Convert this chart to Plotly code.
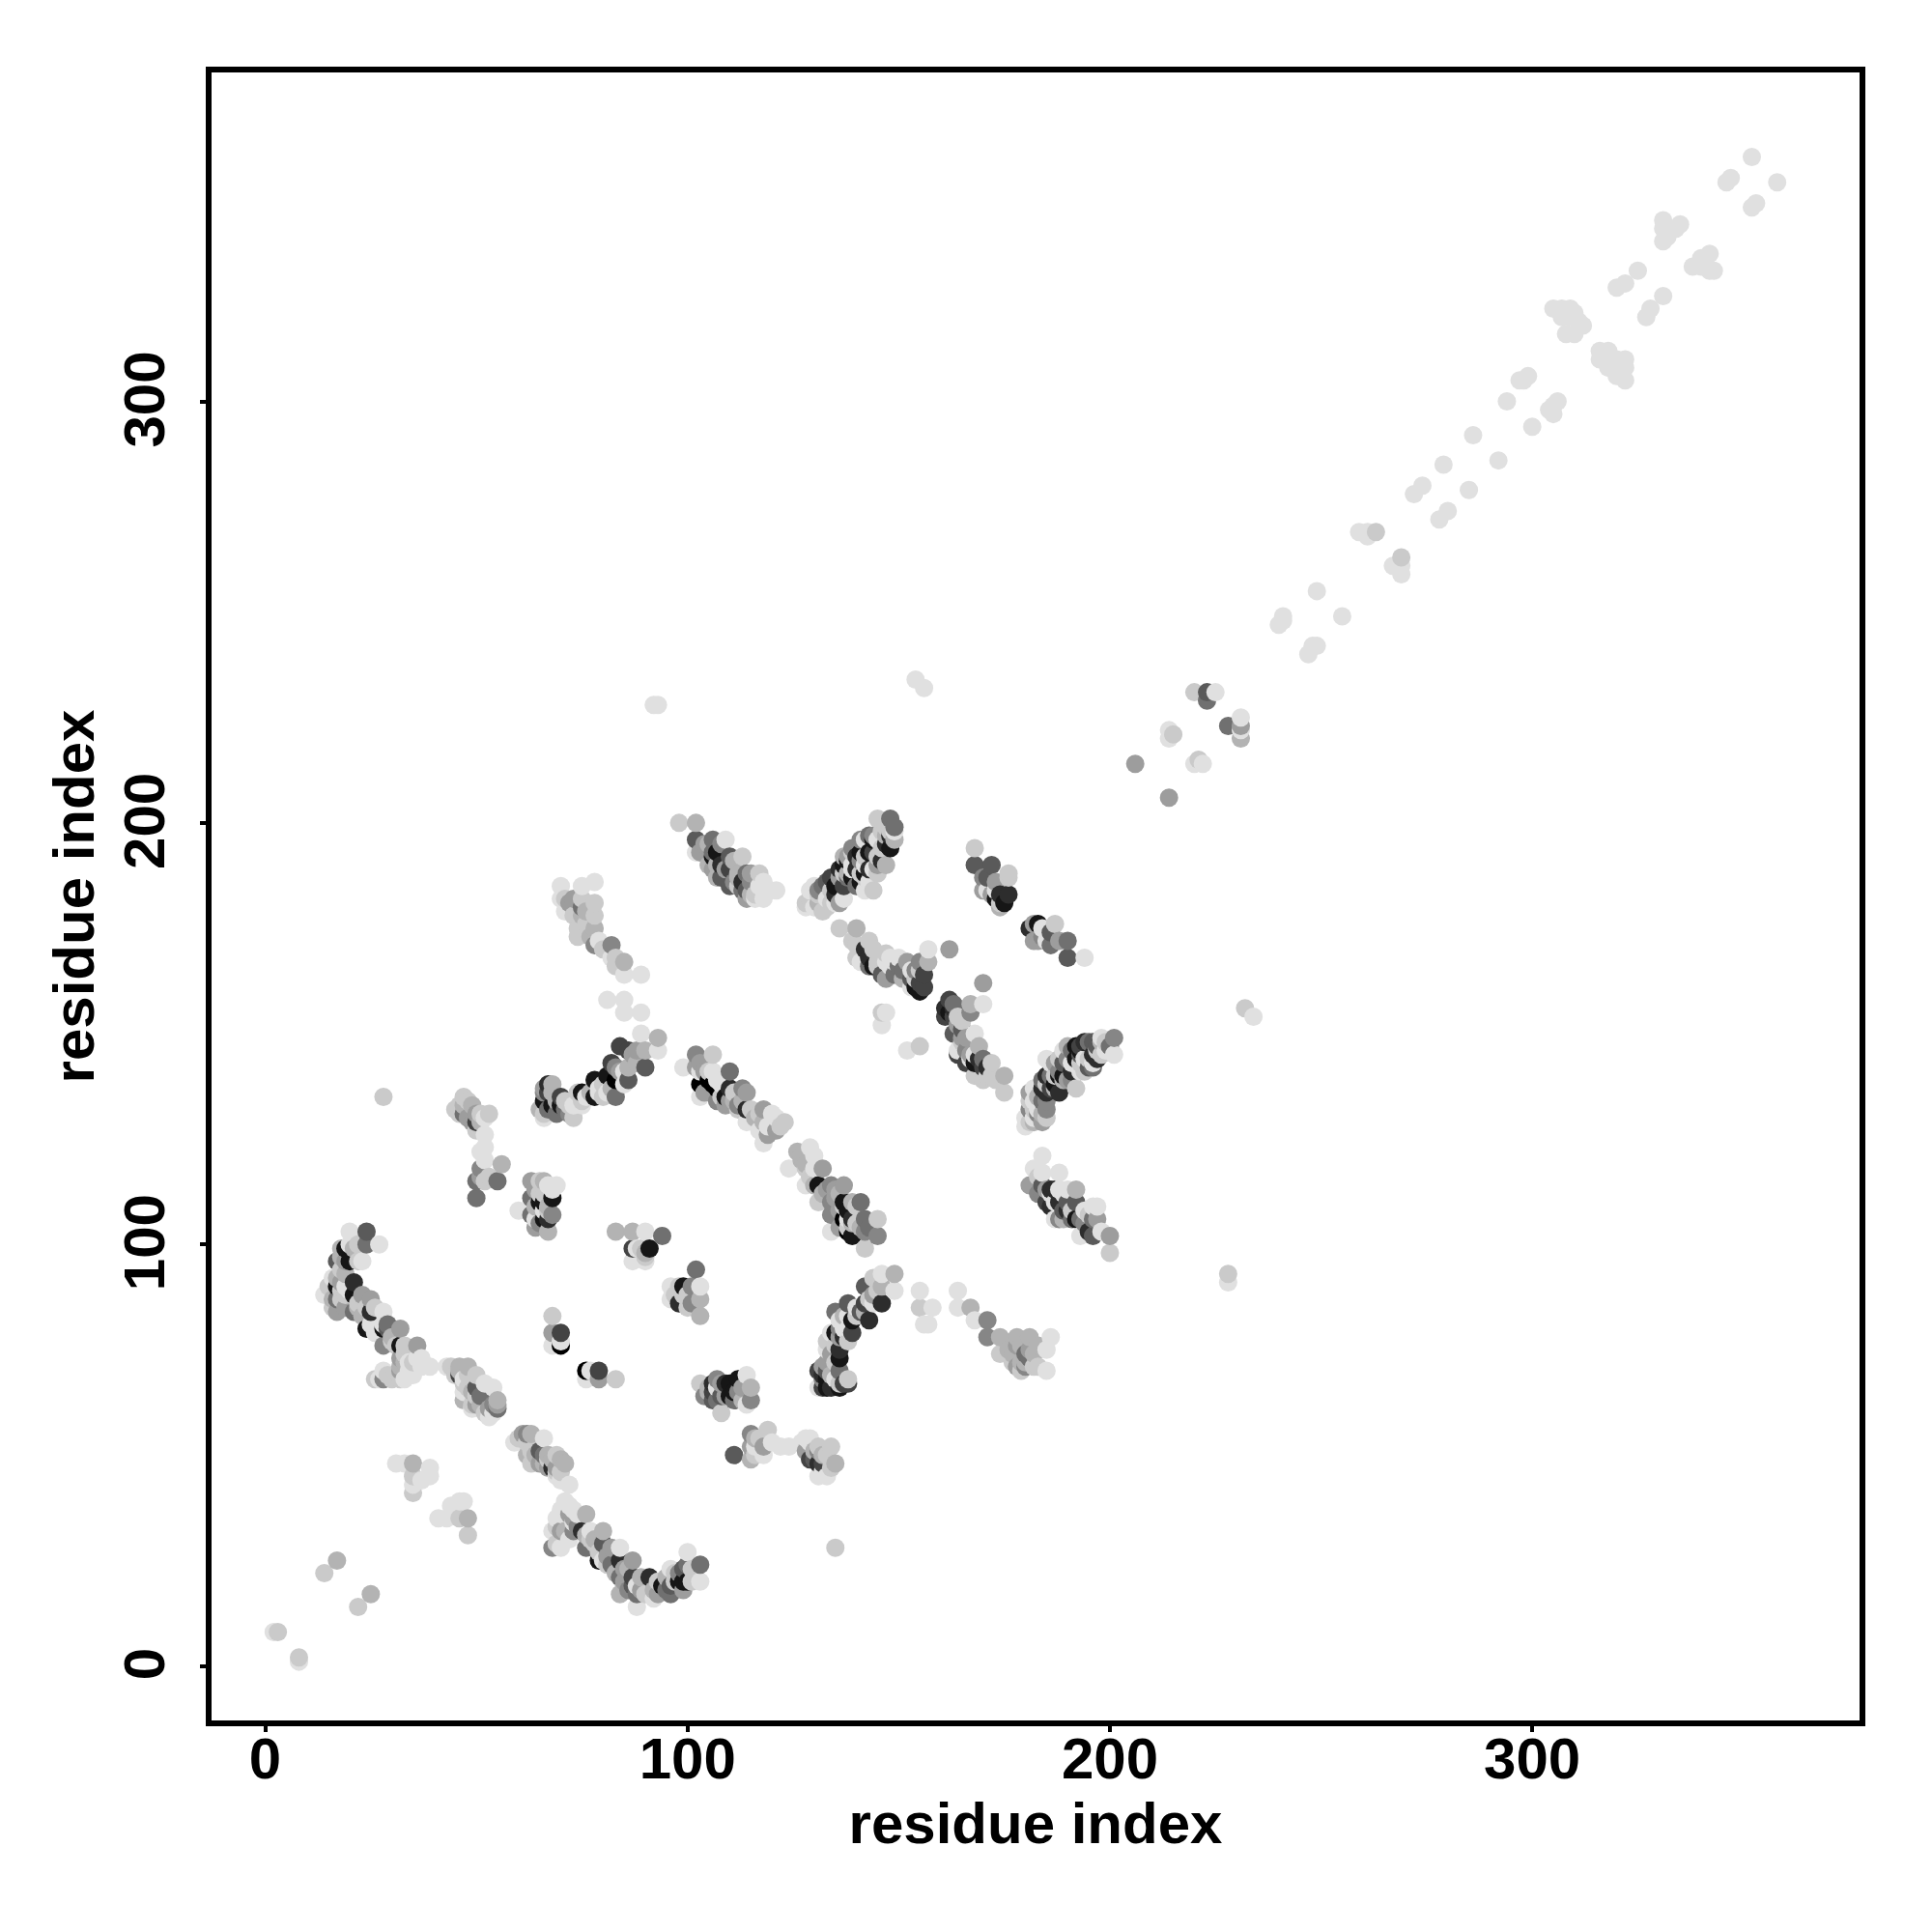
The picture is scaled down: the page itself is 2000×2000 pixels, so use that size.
import plotly.graph_objects as go

tick_vals = [0, 100, 200, 300]
axis_label = "residue index"

# contacts as (residue i, residue j, strength 0-10)
diagonal = [(352,358,0),(346,352,0),(347,353,0),(358,352,0),(352,346,0),(353,347,0),(331,343,0),(331,341,0),(335,342,0),(334,341,0),(331,338,0),(332,339,0),
 (342,335,0),(340,334,0),(338,332,0),(342,331,0),(340,332,0),(343,331,0),(325,331,0),(322,328,0),(320,327,0),(331,325,0),(328,322,0),(327,320,0),
 (305,322,0),(307,322,0),(309,322,0),(307,320,0),(309,320,0),(310,321,0),(308,316,0),(310,316,0),(312,318,0),(311,319,0),
 (316,310,0),(318,312,0),(316,312,0),(320,310,0),(322,308,0),(318,308,0),(322,305,0),(320,306,0),(322,310,0),
 (299,306,0),(298,305,0),(297,305,0),(294,300,0),(306,300,0),(304,298,0),(305,297,0),(305,299,0),(300,294,0),(286,292,0),(292,286,0),(279,285,0),(274,280,0),(272,278,0),(285,279,0),(280,274,0),(278,272,0),
 (259,269,0),(261,268,0),(261,269,0),(263,269,1),(269,263,1),(269,261,0),(267,261,0),(269,259,0),(249,255,0),(255,249,0),(241,249,0),(240,247,0),(241,248,0),(248,242,0),(247,240,0),(249,242,0),
 (220,231,1),(223,229,5),(223,231,6),(225,231,0),(228,223,5),(231,225,0),(231,223,3),(231,220,2),(231,222,0),(214,222,0),(215,221,1),(214,220,0),(206,214,3),(214,206,3),(220,214,0),(221,215,1),(222,214,0)]

outliers = [(92,228,0),(93,228,0),(154,234,0),(156,232,0),(28,135,1),(232,156,1),(234,154,0),(228,93,1),(228,91,0),(135,28,1),(2,8,0),(3,8,1),(8,2,1),(8,1,0),(17,25,2),(14,22,1),(25,17,2),(22,14,1)]

n_term_a = [(20,103,0),(24,103,6),(27,100,0),(24,100,5),(18,99,2),(20,100,0),(19,99,9),(23,96,0),(17,96,6),(20,96,9),(21,91,8),(16,92,0),(17,92,2),(17,90,9),(14,88,0),(17,87,5),(17,84,3),(25,87,3),(21,88,9),(21,84,5),(25,84,8),(28,84,0),(24,80,9),(28,80,9),(29,80,6),(32,80,3),(28,76,4),(32,76,9),(36,76,3),(32,73,3),(37,73,0),(39,71,0),(28,70,0),(28,68,4),(26,68,1),(32,70,3),(32,68,1),(35,69,0),
 (18,97,2),(19,96,3),(21,99,2),(22,100,1),(22,96,1),(19,93,2),(18,94,1),(18,89,1),(19,90,0),(18,91,3),(15,90,1),(16,87,2),(19,85,3),(22,85,2),(23,88,3),(23,83,2),(25,81,0),(26,79,0),(29,81,5),(30,78,2),(31,76,1),(33,74,1),(33,72,2),(32,71,2),(35,72,1),(36,73,0),(34,70,0),(30,68,1),(33,68,0),(27,68,0),(29,69,1),(30,77,1),(33,76,1),(35,71,0),(34,72,0),(37,71,0),(26,85,1),(24,85,1),(18,87,1),(16,85,1),(19,88,1),(20,89,0),(22,86,1),(28,81,0)]

n_term_b = [(31,48,0),(33,48,0),(35,48,2),(35,45,1),(35,43,0),(35,41,1),(39,47,0),(39,45,0),(37,44,0),(46,39,0),(47,39,0),(44,38,0),(41,35,0),(43,35,0),(46,35,1),(48,35,2),(48,31,1)]

n_term_c = [(43,71,0),(44,71,1),(46,71,2),(48,71,2),(50,69,1),(46,69,7),(47,65,0),(50,66,6),(50,62,3),(54,66,0),(55,63,2),(53,59,0),(55,61,5),(49,62,1),
 (45,69,1),(46,70,2),(47,68,0),(47,67,1),(48,66,1),(49,65,2),(50,64,1),(48,69,1),(47,63,2),(49,61,0),(51,62,2),(52,60,1),(54,60,0),(53,61,3),(54,62,4),(51,64,5),(52,67,0),(55,62,3)]

n_term_d = [(59,53,0),(62,55,4),(63,55,2),(66,54,0),(62,50,2),(66,50,5),(69,50,1),(71,48,2),(68,47,8),(65,48,3),(69,45,0),(72,43,0),(64,49,1),
 (71,39,0),(73,37,0),(76,36,2),(69,35,0),(73,35,3),(68,32,0),(70,32,3),(73,32,4),(77,32,0),(75,32,8),(80,32,2),(68,28,4),(70,28,0),(76,28,5),(78,29,1),(80,29,6),(84,28,0),(80,25,0),(79,25,9),
 (84,25,8),(87,25,3),(84,21,5),(84,17,2),(87,21,7),(88,17,5),(88,14,0),(91,21,8),(92,18,2),(92,16,0),(96,23,0),(96,19,6),(96,17,5),(100,27,0),(100,24,5),(103,24,5),(103,20,0),(99,20,9),(99,18,3),(97,20,1),
 (60,54,1),(61,55,3),(62,53,1),(63,51,1),(63,48,1),(64,50,2),(65,51,6),(67,49,1),(67,50,2),(68,49,2),(69,47,3),(70,49,2),(69,46,1),(70,46,1),(70,44,0),(66,48,2),(67,47,3),
 (70,37,0),(72,38,0),(74,36,0),(70,36,0),(72,36,3),(74,33,4),(73,34,0),(69,33,1),(71,32,2),(69,29,1),(72,30,0),(76,31,2),(77,30,1),(78,30,2),(79,27,1),(81,26,3),(82,28,3),(81,24,1),(82,24,5),(83,22,2),(85,20,3),(85,23,3),(85,19,2),(86,23,2),(86,18,4),(87,19,6),(88,19,0),(89,21,2),(89,18,3),(90,17,1),(93,20,1),(93,17,3),(94,19,9),(95,21,2),(95,18,5),(97,22,1),(98,20,9),(98,22,4),(99,23,6),(100,20,9),(101,20,1),(101,23,1)]

mid_a = [(63,115,3),(66,115,2),(67,114,0),(69,114,0),(63,111,5),(66,110,9),(68,111,9),(63,107,5),(68,107,4),(66,106,9),(64,104,3),(67,103,2),(60,108,0),
 (64,113,3),(65,115,1),(64,109,2),(65,110,9),(65,112,1),(66,108,0),(67,106,8),(64,106,0),(66,112,1),(67,109,2),(65,105,4),(67,108,1),(68,113,0)]
mid_b = [(83,103,2),(87,103,2),(90,103,0),(94,102,5),(87,99,7),(89,99,1),(91,99,9),(88,99,0),(87,96,0),(90,96,0),(90,98,2),(90,97,1)]
mid_c = [(102,94,5),(99,90,9),(96,90,0),(103,90,0),(101,90,4),(99,87,8),(99,88,1),(96,87,0),(103,87,2),(103,83,2),(98,90,1),(100,85,1),(98,86,8),(101,86,4),(100,88,1),(97,88,1)]
mid_d = [(68,83,1),(68,79,3),(70,79,7),(68,76,0),(70,76,10),(70,77,0),(76,70,10),(79,70,7),(76,68,0),(79,68,3),(83,68,1),(77,70,0)]
mid_e = [(114,69,0),(103,67,1),(107,68,4),(110,67,9),(109,67,8),(115,66,2),(106,65,7),(107,63,5),(104,64,4),(111,63,5),(115,63,4),(108,60,1),(111,65,9),(114,62,0),
 (105,66,2),(106,67,8),(107,66,0),(108,67,3),(108,64,6),(109,64,3),(110,64,9),(112,65,4),(112,68,9),(113,66,3),(105,65,2),(106,63,6),(113,63,2)]
mid_f = [(111,50,6),(115,55,4),(119,56,1),(115,52,3),(118,52,3),(115,49,2),(118,50,0),(122,52,0),(124,52,0),(127,53,0),(129,53,0),(131,52,1),(130,49,6),(133,50,1),(135,48,2),(131,45,0),(133,45,0),(132,48,7),(131,51,4),
 (116,54,2),(117,54,1),(116,50,1),(120,53,0),(128,51,3),(129,49,7),(130,51,2),(131,48,8),(132,50,2),(132,46,0),(134,47,1),(128,54,0),(129,54,0),(134,52,1),(116,52,0)]
mid_g = [(136,70,5),(132,71,3),(131,70,7),(131,66,0),(132,66,7),(134,66,8),(138,68,1),(138,67,7),(133,68,9),(136,75,8),(133,75,0),(135,79,9),(134,79,0),(139,79,7),(138,80,0),(135,84,5),(138,86,6),(136,82,0),(139,82,9),(143,82,8),(142,86,7),(142,90,6),(146,86,8),(146,90,2),(149,89,0),(146,93,0),(149,93,2),
 (132,69,8),(132,68,4),(133,70,6),(133,66,9),(134,69,2),(135,68,0),(136,67,1),(136,66,9),(137,67,7),(135,72,1),(134,74,3),(135,76,1),(136,73,9),(136,78,3),(137,78,8),(138,77,1),(137,80,0),(136,80,4),(137,83,2),(138,83,0),(140,83,1),(140,85,0),(141,84,6),(142,84,2),(143,87,1),(144,86,0),(144,92,1),(144,88,3),(145,89,1),(133,72,3),(133,77,1)]
mid_h = [(155,89,0),(155,85,1),(158,85,0),(157,81,0),(156,81,0),(164,89,0),(164,85,0),(167,85,2),(168,82,0),(171,82,4),(171,78,4),(174,78,2),(178,78,2),(181,78,2),(186,78,0),(174,74,1),(177,74,2),(181,75,3),(185,75,0),(178,71,3),(182,71,1),(185,70,0),(179,70,1),(181,73,5),
 (176,75,2),(177,72,1),(178,76,3),(179,76,2),(179,72,2),(180,74,5),(180,72,2),(180,71,4),(182,74,2),(183,76,2),(183,71,1)]

upper_a = [(129,123,0),(127,121,2),(130,121,0),(124,118,0),(128,118,1),(132,118,3),(134,114,4),(137,114,3),(128,114,0),(131,114,9),(134,110,4),(137,110,9),(141,110,5),(137,106,10),(142,106,5),(145,106,1),(138,103,10),(134,103,0),(142,103,4),(145,102,4),(134,107,4),(131,110,1),(142,99,1),
 (126,122,2),(127,120,2),(128,119,2),(130,118,0),(129,116,1),(130,114,2),(132,112,2),(133,113,3),(135,111,3),(135,113,3),(136,112,2),(136,108,3),(137,109,1),(138,108,9),(139,110,2),(138,106,0),(139,105,2),(138,104,1),(139,102,9),(139,106,8),(140,105,1),(140,109,1),(141,104,2),(143,104,5),(136,104,3)]
upper_b = [(102,145,4),(106,145,1),(99,142,0),(102,142,3),(110,141,5),(106,141,0),(106,138,10),(103,138,10),(110,137,8),(113,137,4),(103,135,0),(107,134,4),(110,134,3),(114,132,8),(115,132,1),(118,132,3),(114,129,0),(118,129,2),(123,129,1),(121,127,3),(118,124,0),(117,127,0),(121,130,0),(108,138,0),
 (103,143,3),(103,141,0),(104,141,3),(105,139,10),(104,136,3),(105,141,1),(107,139,0),(107,137,10),(109,135,9),(108,135,1),(109,133,3),(111,136,1),(111,134,2),(112,133,4),(112,132,1),(113,134,2),(114,136,3),(116,130,2),(117,131,1),(119,126,3),(120,128,0),(119,128,0),(122,128,1),(120,131,0)]
upper_c = [(89,150,0),(93,149,2),(93,146,0),(90,146,2),(86,146,7),(90,142,6),(86,142,2),(83,142,4),(82,143,7),(83,139,10),(86,139,6),(83,135,5),(78,139,9),(78,135,9),(80,135,1),(75,136,9),(76,135,0),(75,133,0),(67,138,8),(68,138,2),(70,135,7),(71,134,1),(66,134,9),(66,131,1),(69,131,5),(72,131,4),(66,130,0),(79,137,0),
 (84,141,3),(85,141,0),(85,138,0),(88,146,3),(88,143,2),(81,140,9),(82,137,2),(80,138,1),(79,136,0),(81,136,0),(84,147,7),(77,136,2),(74,136,1),(67,136,7),(66,136,4),(67,132,5),(68,133,9),(68,136,2),(69,134,2),(70,133,9),(71,132,5),(72,133,1),(73,133,0),(65,132,2),(66,137,3),(73,130,1),(75,134,1),(87,145,3)]
upper_d = [(70,185,0),(75,185,0),(78,186,0),(70,182,0),(72,181,3),(75,182,1),(78,181,1),(75,180,5),(72,179,0),(75,178,2),(78,178,1),(74,175,1),(78,175,2),(78,171,4),(82,171,4),(82,168,0),(85,167,2),(85,164,0),(89,164,0),(81,158,0),(85,158,0),(85,155,0),(89,155,0),
 (71,182,1),(73,182,3),(71,179,0),(73,178,1),(76,176,1),(76,179,2),(80,170,1),(83,166,1),(83,168,1),(74,173,1),(77,173,2),(79,172,0)]
upper_e = [(45,132,1),(47,135,1),(49,133,2),(47,131,5),(50,131,3),(52,130,0),(53,131,1),(50,129,7),(52,126,0),(52,123,0),(56,119,2),(51,118,4),(52,115,1),(55,115,5),(50,115,5),(50,111,5),
 (46,133,1),(46,131,1),(48,134,1),(48,130,3),(49,129,3),(51,129,2),(51,131,1),(47,133,2),(50,127,1),(52,120,0),(51,122,0),(51,116,3),(53,116,1)]

top_a = [(98,200,1),(102,200,2),(102,196,6),(106,196,5),(102,193,0),(109,196,0),(106,193,5),(106,192,9),(110,192,6),(113,192,1),(106,189,3),(110,189,7),(110,185,6),(114,188,5),(117,188,1),(114,184,6),(117,185,0),(114,182,3),(118,182,0),(121,184,0),(119,184,0),
 (103,193,3),(104,195,3),(105,195,2),(105,190,2),(107,190,2),(107,193,9),(108,195,4),(108,190,8),(108,187,6),(109,189,3),(111,191,2),(112,188,2),(112,187,2),(112,185,1),(113,186,8),(115,186,4),(115,183,2),(116,183,1),(113,184,5),(118,186,0),(115,188,3),(116,182,0),(111,186,4),(107,187,2)]
top_b = [(148,201,5),(145,201,1),(149,198,0),(148,197,8),(148,194,9),(147,190,2),(144,193,7),(145,196,0),(141,196,4),(142,196,0),(137,192,2),(140,192,8),(144,189,0),(140,189,8),(136,189,8),(140,185,5),(143,186,0),(137,185,7),(132,185,5),(130,185,0),(136,181,3),(137,182,0),(129,182,1),(131,181,2),(133,182,0),(128,180,0),(130,180,0),(135,185,9),(142,190,0),(139,189,0),
 (147,199,1),(147,195,8),(146,198,1),(146,194,1),(146,191,8),(145,192,1),(145,188,1),(144,196,9),(144,197,4),(143,193,9),(143,197,5),(143,189,8),(142,192,1),(142,188,9),(142,187,1),(141,193,9),(141,191,4),(141,188,1),(141,186,9),(139,187,9),(139,190,0),(139,193,1),(138,188,2),(138,187,5),(138,191,9),(138,192,3),(139,194,4),(137,190,9),(137,188,1),(136,187,3),(135,183,8),(134,184,1),(134,187,7),(133,186,6),(131,184,4),(131,183,1),(128,181,1),(129,184,0),(135,181,0),(134,181,1),(133,180,1),(132,179,1),(142,184,0),(144,184,1),(145,190,3),(147,197,2),(148,198,1),(149,199,5),(149,196,2)]
top_c = [(136,175,1),(140,175,2),(140,171,1),(143,172,1),(140,168,1),(143,168,8),(147,169,1),(146,164,6),(148,168,0),(150,168,0),(149,164,5),(151,165,5),(155,167,4),(157,167,2),(157,170,0),(162,170,3),(155,162,7),(154,161,9),(153,163,6),(147,167,0),(147,155,0),(146,152,0),(146,155,1),(152,146,0),(155,147,1),
 (139,172,1),(142,170,8),(143,166,5),(144,166,9),(145,167,1),(145,166,1),(146,168,1),(147,163,3),(148,166,0),(150,166,5),(151,163,2),(152,167,3),(153,165,0),(153,161,0),(154,165,4),(155,165,1),(156,161,7),(156,164,7),(155,160,9),(154,163,1),(141,167,0),(144,170,1),(149,167,0)]
top_d = [(170,162,3),(167,157,2),(170,157,0),(167,155,4),(161,156,8),(163,156,8),(162,155,9),(165,153,1),(163,150,6),(168,150,0),(164,146,0),(164,145,7),(169,147,2),(168,143,9),(172,143,1),(168,140,1),(171,140,1),(175,140,2),(175,136,1),
 (161,154,7),(162,158,7),(163,154,7),(163,157,5),(164,154,1),(164,152,3),(165,151,6),(165,149,3),(165,148,1),(166,149,3),(166,146,4),(166,143,7),(167,145,3),(167,144,0),(168,145,0),(169,144,8),(170,142,7),(170,144,5),(170,139,1),(172,140,1),(173,139,1),(171,142,8)]
top_e = [(168,194,1),(168,190,6),(172,190,6),(171,187,6),(176,187,1),(172,183,3),(176,183,8),(175,181,9),(173,184,0),(181,175,8),(183,176,9),(187,176,1),(183,172,3),(186,171,5),(190,172,5),(190,168,6),(194,168,0),(184,175,0),
 (170,187,4),(170,184,3),(171,184,0),(173,186,3),(174,183,8),(173,182,9),(174,181,1),(174,180,2),(176,188,1),(182,172,3),(182,176,3),(184,173,4),(185,172,0),(186,174,6),(188,172,3)]
top_f = [(201,149,4),(198,149,0),(194,148,8),(190,147,2),(201,145,0),(196,148,6),(192,144,9),(196,142,5),(193,141,0),(189,143,6),(186,143,0),(188,140,9),(185,140,8),(192,137,1),(188,136,8),(185,136,8),(182,137,0),(185,134,4),(181,134,1),(181,136,3),(185,132,4),(185,130,1),(181,132,4),(180,130,0),(180,128,0),(182,129,2),(182,134,0),
 (200,147,5),(199,148,1),(199,146,0),(198,148,2),(198,145,1),(197,147,6),(197,144,8),(197,146,1),(196,143,0),(196,145,8),(195,144,1),(195,148,5),(195,142,6),(194,141,1),(194,144,0),(193,146,9),(193,145,6),(193,143,1),(193,147,7),(192,147,9),(191,146,5),(191,141,8),(191,139,4),(191,143,0),(190,139,3),(190,144,4),(189,140,9),(189,139,2),(189,146,0),(188,144,1),(188,141,4),(187,138,9),(187,143,3),(187,140,1),(186,137,7),(186,140,5),(187,137,2),(184,134,5),(184,137,8),(184,139,5),(185,138,1),(185,144,0),(183,131,4),(183,132,0),(183,135,2),(184,129,3),(184,131,2),(182,132,1),(182,130,0),(181,129,1)]
top_g = [(184,121,0),(182,118,0),(188,117,0),(184,117,0),(181,114,3),(184,114,6),(185,110,7),(188,113,0),(192,113,2),(187,113,8),(188,110,8),(192,110,6),(187,106,0),(188,106,4),(192,106,9),(193,106,5),(196,109,0),(196,106,5),(193,102,0),(196,102,6),(200,102,3),(200,98,1),
 (183,116,1),(183,112,4),(184,112,4),(185,113,3),(186,113,8),(186,112,0),(186,109,8),(187,110,0),(189,112,0),(190,113,0),(190,108,8),(191,106,5),(189,108,6),(191,108,1),(194,108,0),(194,105,4),(195,103,8),(195,107,1),(189,106,2),(198,103,0),(197,106,3),(197,109,0),(190,110,6)]

clusters = [diagonal, outliers, n_term_a, n_term_b, n_term_c, n_term_d, mid_a, mid_b, mid_c, mid_d, mid_e, mid_f, mid_g, mid_h,
            upper_a, upper_b, upper_c, upper_d, upper_e, top_a, top_b, top_c, top_d, top_e, top_f, top_g]

contacts = sorted(c for group in clusters for c in group)
res_i = [c[0] for c in contacts]
res_j = [c[1] for c in contacts]
strength = [c[2] for c in contacts]

FONT = "Liberation Sans"
fig = go.Figure(go.Scatter(
    x=res_i, y=res_j, mode="markers", hoverinfo="skip",
    marker=dict(size=19, color=strength, cmin=0, cmax=10,
                colorscale=[[0, "#e0e0e0"], [1, "#000000"]], showscale=False, line=dict(width=0), opacity=1),
))
axis = dict(tickmode="array", tickvals=tick_vals, ticks="outside", ticklen=6, tickwidth=4, tickcolor="black",
            showgrid=False, zeroline=False, showline=True, linecolor="black", linewidth=6, mirror=True,
            tickfont=dict(family=FONT, size=60, color="black", weight="bold"))
fig.update_layout(
    width=2000, height=2000, autosize=False, showlegend=False,
    paper_bgcolor="white", plot_bgcolor="white",
    margin=dict(l=219, r=75, t=75, b=219),
    xaxis=dict(axis, range=[-12.7, 377.5], ticklabelstandoff=-24,
               title=dict(text=axis_label, standoff=8, font=dict(family=FONT, size=60, color="black", weight="bold"))),
    yaxis=dict(axis, range=[-12.95, 378.05], tickangle=-90, ticklabelstandoff=13, ticklabelshift=7,
               title=dict(text=axis_label, standoff=1, font=dict(family=FONT, size=60, color="black", weight="bold"))),
)
fig.write_html("out.html", config={"displayModeBar": False},
               post_script="document.body.style.margin='0';document.body.style.overflow='hidden';")
